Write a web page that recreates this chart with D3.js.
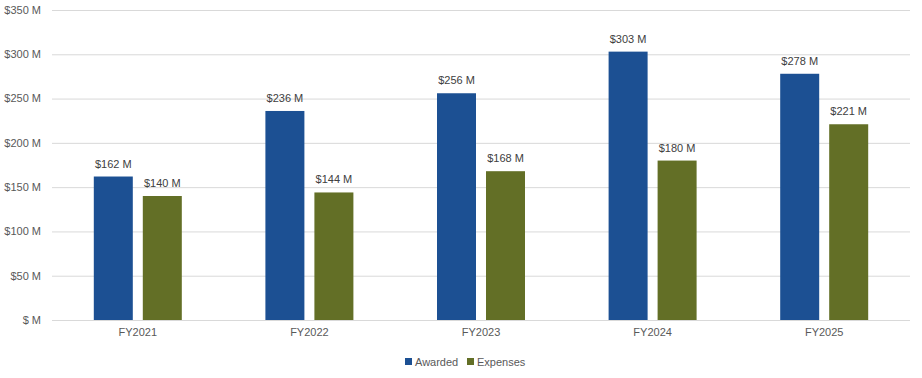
<!DOCTYPE html>
<html><head><meta charset="utf-8">
<script src="https://cdn.jsdelivr.net/npm/d3@7"></script>
<style>body{margin:0;background:#fff;}text{font-family:"Liberation Sans",Arial,sans-serif;}</style>
</head><body><svg id="c" width="922" height="378"></svg>
<script>
const categories = ["FY2021","FY2022","FY2023","FY2024","FY2025"];
const awarded = [162,236,256,303,278];
const expenses = [140,144,168,180,221];
const seriesNames = ["Awarded","Expenses"];
const yTicks = [0,50,100,150,200,250,300,350];
const colors = ["#1c5093","#636f26"];

const svg = d3.select("#c");
const m = {l:52, r:12, t:10, b:58};
const W = 922, H = 378;
const x = d3.scaleBand().domain(categories).range([m.l, W-m.r]);
const y = d3.scaleLinear().domain([0,350]).range([H-m.b, m.t]);
const fmt = v => v===0 ? "$ M" : "$" + v + " M";

const g = svg.append("g");
g.selectAll(".grid").data(yTicks).join("line")
  .attr("x1", m.l).attr("x2", W-m.r)
  .attr("y1", d=>y(d)+0.5).attr("y2", d=>y(d)+0.5)
  .attr("stroke","#d9d9d9").attr("stroke-width",1);
g.selectAll(".yl").data(yTicks).join("text")
  .attr("x", 41).attr("y", d=>y(d)).attr("dy","0.35em")
  .attr("text-anchor","end").attr("fill","#595959").attr("font-size",11)
  .text(fmt);

const xs = d3.scaleBand().domain(seriesNames).range([0, x.bandwidth()]).paddingInner(0.2).paddingOuter(0.9);
const bw = 39, gap = 10;
const data = categories.map((c,i)=>({c, vals:[awarded[i], expenses[i]]}));
const grp = g.selectAll(".cat").data(data).join("g")
  .attr("transform", d=>`translate(${x(d.c)+x.bandwidth()/2},0)`);
grp.selectAll("rect").data(d=>d.vals).join("rect")
  .attr("x",(d,i)=> i===0 ? -bw-gap/2 : gap/2)
  .attr("width", bw)
  .attr("y", d=>y(d)).attr("height", d=>y(0)-y(d))
  .attr("fill",(d,i)=>colors[i]);
grp.selectAll("text.v").data(d=>d.vals).join("text")
  .attr("x",(d,i)=> i===0 ? -bw/2-gap/2 : gap/2+bw/2)
  .attr("y", d=>y(d)-9)
  .attr("text-anchor","middle").attr("fill","#404040").attr("font-size",11)
  .text(d=>"$"+d+" M");
grp.append("text").attr("x",0).attr("y", y(0)+16)
  .attr("text-anchor","middle").attr("fill","#595959").attr("font-size",11)
  .text(d=>d.c);

const leg = svg.append("g");
const lx = [405, 467];
seriesNames.forEach((s,i)=>{
  leg.append("rect").attr("x",lx[i]).attr("y",358).attr("width",7).attr("height",7).attr("fill",colors[i]);
  leg.append("text").attr("x",lx[i]+10).attr("y",362).attr("dy","0.35em")
    .attr("fill","#595959").attr("font-size",11).text(s);
});
</script></body></html>
